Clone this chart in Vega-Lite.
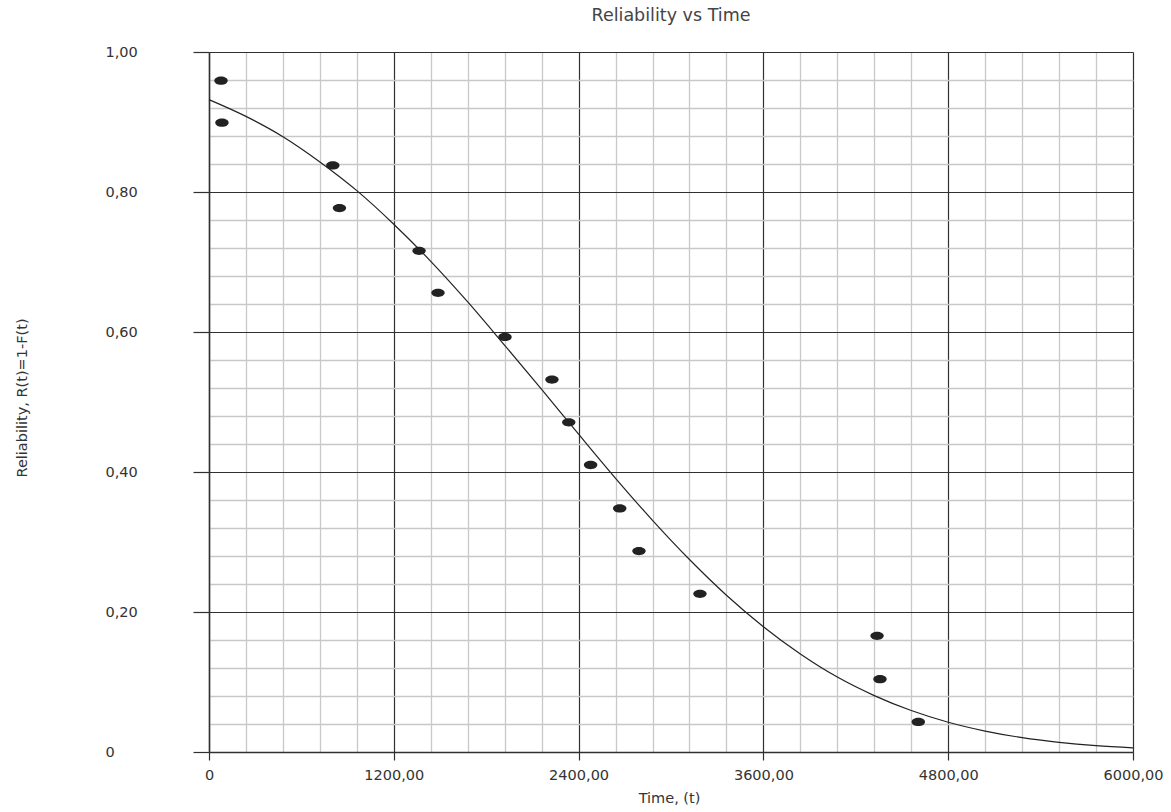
{
  "$schema": "https://vega.github.io/schema/vega-lite/v6.json",
  "width": 924,
  "height": 700,
  "autosize": "none",
  "padding": {"left": 209, "top": 52, "right": 38, "bottom": 60},
  "background": "white",
  "view": {"stroke": null},
  "title": {
    "text": "Reliability vs Time",
    "font": "DejaVu Sans",
    "fontSize": 17.5,
    "fontWeight": "normal",
    "color": "#444444",
    "anchor": "middle",
    "baseline": "middle",
    "offset": 11
  },
  "datasets": {
    "fit": [
      {"t": 0, "R": 0.932},
      {"t": 240, "R": 0.908},
      {"t": 480, "R": 0.879},
      {"t": 720, "R": 0.843},
      {"t": 960, "R": 0.802},
      {"t": 1200, "R": 0.754},
      {"t": 1440, "R": 0.701},
      {"t": 1680, "R": 0.643},
      {"t": 1920, "R": 0.581},
      {"t": 2160, "R": 0.518},
      {"t": 2400, "R": 0.454},
      {"t": 2640, "R": 0.391},
      {"t": 2880, "R": 0.331},
      {"t": 3120, "R": 0.275},
      {"t": 3360, "R": 0.224},
      {"t": 3600, "R": 0.179},
      {"t": 3840, "R": 0.140},
      {"t": 4080, "R": 0.107},
      {"t": 4320, "R": 0.0806},
      {"t": 4560, "R": 0.0592},
      {"t": 4800, "R": 0.0425},
      {"t": 5040, "R": 0.0299},
      {"t": 5280, "R": 0.0205},
      {"t": 5520, "R": 0.0138},
      {"t": 5760, "R": 0.0090},
      {"t": 6000, "R": 0.0058}
    ],
    "obs": [
      {"t": 78, "R": 0.959},
      {"t": 84, "R": 0.899},
      {"t": 804, "R": 0.838},
      {"t": 847, "R": 0.777},
      {"t": 1364, "R": 0.716},
      {"t": 1487, "R": 0.656},
      {"t": 1922, "R": 0.593},
      {"t": 2227, "R": 0.532},
      {"t": 2336, "R": 0.471},
      {"t": 2478, "R": 0.410},
      {"t": 2667, "R": 0.348},
      {"t": 2792, "R": 0.287},
      {"t": 3188, "R": 0.226},
      {"t": 4338, "R": 0.166},
      {"t": 4357, "R": 0.104},
      {"t": 4606, "R": 0.043}
    ]
  },
  "layer": [
    {
      "data": {"name": "fit"},
      "mark": {"type": "line", "color": "#222222", "strokeWidth": 1.2, "interpolate": "monotone"},
      "encoding": {
        "x": {
          "field": "t", "type": "quantitative",
          "scale": {"domain": [0, 6000], "nice": false, "zero": false},
          "axis": {
            "orient": "bottom",
            "values": [240, 480, 720, 960, 1440, 1680, 1920, 2160, 2640, 2880, 3120, 3360, 3840, 4080, 4320, 4560, 5040, 5280, 5520, 5760],
            "grid": true, "gridColor": "#c8c8c8", "gridWidth": 1.3,
            "ticks": false, "labels": false, "domain": false, "title": null
          }
        },
        "y": {
          "field": "R", "type": "quantitative",
          "scale": {"domain": [0, 1], "nice": false, "zero": false},
          "axis": {
            "orient": "left",
            "values": [0.04, 0.08, 0.12, 0.16, 0.24, 0.28, 0.32, 0.36, 0.44, 0.48, 0.52, 0.56, 0.64, 0.68, 0.72, 0.76, 0.84, 0.88, 0.92, 0.96],
            "grid": true, "gridColor": "#c8c8c8", "gridWidth": 1.3,
            "ticks": false, "labels": false, "domain": false, "title": null
          }
        }
      }
    },
    {
      "data": {"name": "obs"},
      "mark": {
        "type": "point",
        "shape": "M -1 0 A 1 0.62 0 1 1 1 0 A 1 0.62 0 1 1 -1 0 Z",
        "filled": true,
        "color": "#222222",
        "opacity": 1,
        "size": 180
      },
      "encoding": {
        "x": {
          "field": "t", "type": "quantitative",
          "scale": {"domain": [0, 6000], "nice": false, "zero": false},
          "axis": {
            "orient": "bottom",
            "values": [0, 1200, 2400, 3600, 4800, 6000],
            "grid": true, "gridColor": "#303030", "gridWidth": 1.2,
            "domain": true, "domainColor": "#303030", "domainWidth": 1.5,
            "ticks": true, "tickColor": "#303030", "tickSize": 8, "tickWidth": 1.2,
            "labelExpr": "datum.value == 0 ? '0' : replace(format(datum.value, '.2f'), '.', ',')",
            "labelFont": "DejaVu Sans", "labelFontSize": 14.5, "labelColor": "#333333",
            "labelPadding": 8, "labelFlush": false, "labelOverlap": false, "labelBaseline": "top",
            "title": "Time, (t)",
            "titleFont": "DejaVu Sans", "titleFontSize": 14.5, "titleFontWeight": "normal", "titleColor": "#333333",
            "titleX": 460, "titleY": 46, "titleAlign": "center", "titleBaseline": "middle"
          }
        },
        "y": {
          "field": "R", "type": "quantitative",
          "scale": {"domain": [0, 1], "nice": false, "zero": false},
          "axis": {
            "orient": "left",
            "values": [0, 0.2, 0.4, 0.6, 0.8, 1],
            "grid": true, "gridColor": "#303030", "gridWidth": 1.2,
            "domain": true, "domainColor": "#303030", "domainWidth": 1.5,
            "ticks": true, "tickColor": "#303030", "tickSize": 16, "tickWidth": 1.2,
            "labelExpr": "datum.value == 0 ? '0' : replace(format(datum.value, '.2f'), '.', ',')",
            "labelFont": "DejaVu Sans", "labelFontSize": 14.5, "labelColor": "#333333",
            "labelAlign": "left", "labelBaseline": "middle", "labelPadding": 88,
            "labelFlush": false, "labelOverlap": false,
            "title": "Reliability, R(t)=1-F(t)",
            "titleFont": "DejaVu Sans", "titleFontSize": 14.5, "titleFontWeight": "normal", "titleColor": "#333333",
            "titleAngle": -90, "titleX": -186.5, "titleY": 345.5, "titleAlign": "center", "titleBaseline": "middle"
          }
        }
      }
    }
  ],
  "resolve": {"axis": {"x": "independent", "y": "independent"}}
}
